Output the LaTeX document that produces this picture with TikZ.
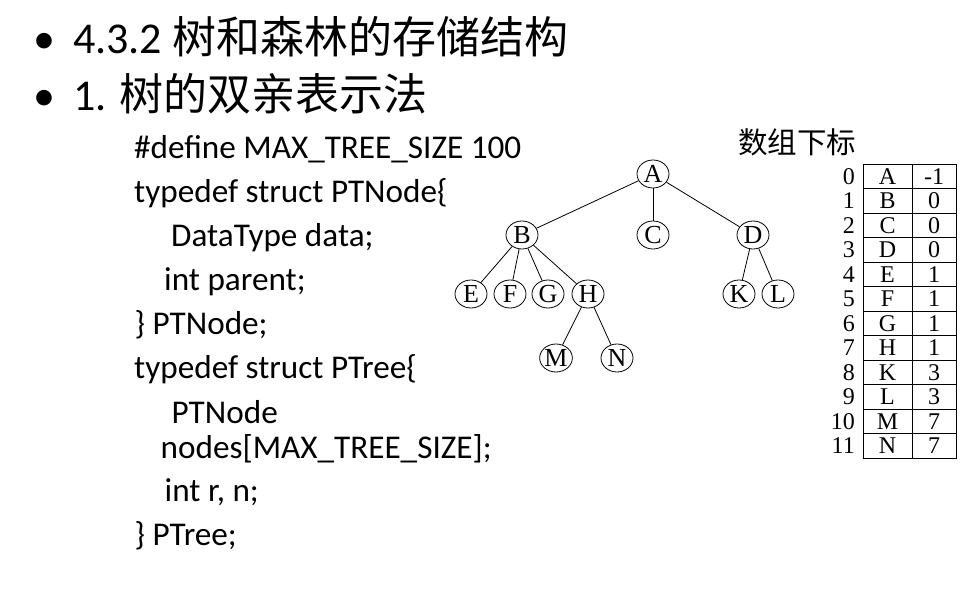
\documentclass[tikz,border=0pt]{standalone}
\usepackage{fontspec}
\setmainfont{Carlito}
\newfontfamily\cjk{Noto Sans CJK SC}
\newfontfamily\tms{Liberation Serif}
\usetikzlibrary{shapes.geometric}
\begin{document}
\begin{tikzpicture}[x=1pt,y=-1pt,
 ttl/.style={anchor=base west, inner sep=0pt, font=\fontsize{44}{50}\selectfont},
 txt/.style={anchor=base west, inner sep=0pt, font=\fontsize{33.2}{38}\selectfont},
 tn/.style={ellipse, draw, line width=0.8pt, minimum width=32pt, minimum height=28pt, inner sep=0pt, font=\tms\fontsize{26}{26}\selectfont},
 edge/.style={line width=0.8pt},
 cell/.style={draw, line width=1pt, minimum height=24.5pt, inner sep=0pt, outer sep=0pt, font=\tms\fontsize{24}{24}\selectfont},
 idx/.style={anchor=east, inner sep=0pt, font=\tms\fontsize{24}{24}\selectfont}]
\useasboundingbox (0,0) rectangle (962,589);
% title lines
\node[ttl] (b1) at (33,53.3) {•};
\node[ttl] (t1) at (73,53.3) {4.3.2 {\cjk 树和森林的存储结构}};
\node[ttl] (b2) at (33,110) {•};
\node[ttl] (t2) at (73,110) {1. {\cjk 树的双亲表示法}};
% code
\node[txt] (c1) at (134,158.7) {\#define MAX\_TREE\_SIZE 100};
\node[txt] (c2) at (134,202.7) {typedef struct PTNode\{};
\node[txt] (c3) at (171,246.7) {DataType data;};
\node[txt] (c4) at (164,290.7) {int parent;};
\node[txt] (c5) at (134.5,334.7) {\} PTNode;};
\node[txt] (c6) at (134,378.7) {typedef struct PTree\{};
\node[txt] (c7) at (171.5,423) {PTNode};
\node[txt] (c8) at (160.5,458) {nodes[MAX\_TREE\_SIZE];};
\node[txt] (c9) at (164.5,501.5) {int r, n;};
\node[txt] (c10) at (134.5,545) {\} PTree;};
% tree
\node[tn] (A) at (653,174) {A};
\node[tn] (B) at (522,235) {B};
\node[tn] (C) at (653,235) {C};
\node[tn] (D) at (753,235) {D};
\node[tn] (E) at (471,294) {E};
\node[tn] (F) at (510,294) {F};
\node[tn] (G) at (548,294) {G};
\node[tn] (H) at (588,294) {H};
\node[tn] (K) at (739,294) {K};
\node[tn] (L) at (778,294) {L};
\node[tn] (M) at (556,358) {M};
\node[tn] (N) at (617,358) {N};
\foreach \p/\c in {A/B,A/C,A/D,B/E,B/F,B/G,B/H,D/K,D/L,H/M,H/N}
  \draw[edge] (\p) -- (\c);
% table
\node[anchor=center, inner sep=0pt, font=\cjk\fontsize{29.5}{30}\selectfont] (hd) at (797,142) {数组下标};
\foreach \i/\l/\v in {0/A/-1,1/B/0,2/C/0,3/D/0,4/E/1,5/F/1,6/G/1,7/H/1,8/K/3,9/L/3,10/M/7,11/N/7}{
  \pgfmathsetmacro{\yy}{164.3+24.5*(\i+0.5)}
  \node[cell, minimum width=49pt] (l\i) at (887.5,\yy) {\l};
  \node[cell, minimum width=44pt] (p\i) at (934,\yy) {\v};
  \node[idx] (i\i) at (855,\yy) {\i};
}
\end{tikzpicture}
\end{document}
